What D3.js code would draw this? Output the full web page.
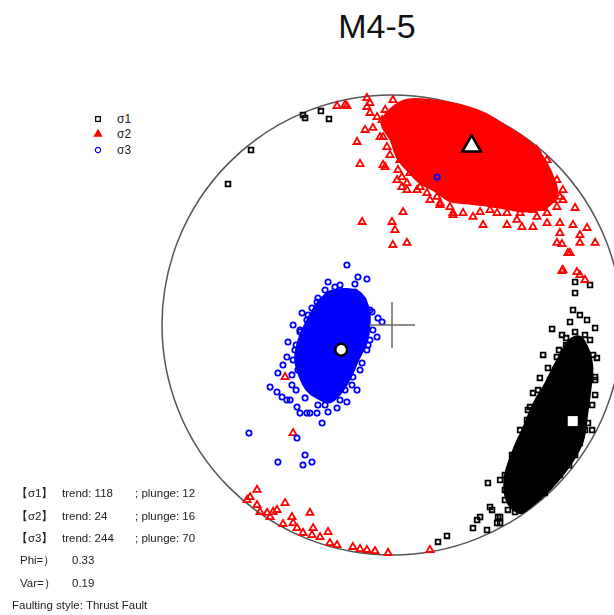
<!DOCTYPE html>
<html>
<head>
<meta charset="utf-8">
<script src="https://cdn.jsdelivr.net/npm/d3@7"></script>
<style>
  body { margin: 0; background: #fff; }
  svg text { font-family: "Liberation Sans", Arial, sans-serif; }
</style>
</head>
<body>
<div id="chart"></div>
<script>
// Stereonet (lower hemisphere, equal area). Point coords are in percent of net radius (x east, y north).

const sigma1Core = [[77.4,-6.5],[81.7,-5.2],[84.8,-9.6],[87.0,-18.3],[86.1,-28.3],[84.8,-38.3],[83.0,-50.0],[78.7,-58.7],[69.0,-71.0],[60.0,-79.1],[55.7,-81.7],[50.5,-77.4],[49.0,-67.0],[53.0,-54.0],[57.5,-44.0],[62.0,-33.5],[67.0,-25.0],[72.0,-15.2]];
const sigma1Points = [[79.6,18.7],[86.1,17.4],[79.6,13.9],[78.7,6.5],[81.7,4.3],[77.4,1.3],[84.8,2.2],[88.3,-1.3],[69.6,-1.7],[73.9,-4.3],[65.7,-13.0],[71.7,-13.9],[89.1,-14.3],[64.3,-23.0],[68.7,-23.9],[88.3,-22.6],[61.3,-29.6],[60.0,-35.7],[85.2,-42.6],[58.7,-41.3],[54.3,-54.3],[81.7,-51.3],[41.7,-68.7],[47.0,-67.4],[77.0,-61.0],[42.6,-79.1],[47.0,-83.5],[41.3,-89.1],[45.7,-86.1],[43.5,-80.4],[38.3,-83.5],[37.0,-84.8],[35.2,-88.3],[47.0,-86.1],[46.1,-83.5],[23.9,-91.7],[20.0,-94.3],[50.4,-80.4],[-38.7,91.3],[-37.8,90.0],[-30.9,93.0],[-27.4,89.6],[-61.3,76.1],[-71.3,61.3],[75.7,-8.7],[70.9,-19.6],[66.5,-30.4],[62.2,-39.1],[57.8,-50.0],[53.5,-60.9],[49.1,-71.7],[86.1,-6.5],[88.3,-30.4],[87.0,-45.7],
  [75.7,-5.7],[72.6,-10.9],[67.8,-18.7],[63.5,-28.3],[59.1,-37.0],[55.7,-45.7],[52.2,-56.5],[49.1,-65.2],[49.1,-76.1],[53.5,-81.3],[59.1,-78.3],[66.5,-73.0],[73.0,-65.2],[79.6,-56.5],[83.9,-45.7],[87.0,-34.8],[88.3,-23.9],[87.4,-13.0],[83.9,-4.3],[79.6,-3.0]];

const sigma2Core = [[-0.9,93.5],[6.5,97.8],[25.2,96.5],[39.6,92.2],[50.0,86.1],[58.7,80.4],[64.3,74.8],[70.0,64.3],[71.7,57.4],[67.4,51.3],[58.7,49.5],[50.0,50.5],[41.3,52.0],[32.6,53.0],[25.2,54.0],[18.5,58.5],[12.0,62.0],[7.5,66.5],[2.5,72.5],[-0.5,80.4],[-4.5,87.8]];
const sigma2Points = [[-20.4,95.7],[-23.9,95.2],[-19.6,95.2],[-10.9,98.7],[-9.6,92.2],[-10.9,94.8],[-11.7,84.8],[-15.2,79.6],[-13.9,70.0],[-3.9,69.6],[4.3,60.0],[4.8,49.1],[-13.0,44.8],[0,44.8],[1.3,41.3],[0.4,34.8],[6.5,35.7],[20.9,53.0],[26.5,47.8],[35.2,47.0],[39.6,43.5],[50.0,43.5],[56.5,42.6],[61.3,42.6],[67.4,44.3],[73.0,44.3],[78.7,43.5],[79.6,50.9],[73.0,40.0],[81.7,39.1],[84.8,42.2],[88.3,35.7],[71.7,35.7],[77.4,31.3],[81.7,35.7],[74.3,23.9],[80.4,23.0],[73.9,35.2],[76.5,31.3],[73.9,23.5],[81.7,21.7],[83.9,19.6],[-46.5,-22.6],[-43.0,-47.0],
  [-58.7,-71.7],[-61.7,-74.8],[-63.0,-76.1],[-58.7,-78.3],[-54.3,-81.7],[-51.7,-81.3],[-50.0,-80.4],[-46.5,-77.4],[-43.5,-83.5],[-47.4,-86.5],[-43.0,-86.1],[-41.3,-88.3],[-38.7,-90.4],[-35.7,-81.7],[-34.3,-88.3],[-34.8,-91.3],[-31.3,-92.2],[-27.8,-90.0],[-27.0,-94.8],[-23.9,-95.7],[-17.0,-96.5],[-13.9,-97.4],[-10.9,-97.8],[-7.4,-98.3],[-1.7,-99.1],[16.5,-97.8],[-57.4,-81.3],[-53.0,-83.5],
  [-4.3,89.1],[-8.3,85.7],[-3.9,81.7],[-0.9,73.9],[-3.0,68.7],[2.6,67.4],[4.3,64.3],[6.5,58.7],[10.9,58.7],[15.2,57.4],[19.6,55.7],[20.9,52.2],[26.5,48.7],[30.9,48.7],[42.6,50.0],[50.0,48.7],[55.7,48.7],[61.3,50.0],[65.7,50.9],[70.0,54.3],[73.0,55.7],[71.7,63.0],[67.4,71.7],[63.0,76.1],[58.7,78.3],[-9.6,96.5],[0.4,97.8],[-3.0,93.5],
  [2.2,63.0],[6.5,61.7],[12.2,60.0],[3.5,71.7],[7.8,66.1],[-5.2,81.7],[-6.5,90.4],[-2.2,77.4],[16.5,54.3],[25.2,51.3],[38.3,49.1],[45.7,48.7],[54.3,45.7],[63.0,47.0],[67.4,48.7],[71.7,51.3],[74.3,54.3],[74.3,58.7]];

const sigma3Core = [[-27.0,14.5],[-19.6,15.5],[-13.9,13.9],[-10.4,7.8],[-9.8,0.9],[-11.2,-7.8],[-14.8,-15.2],[-18.0,-22.6],[-22.6,-30.0],[-27.0,-33.5],[-31.8,-32.0],[-36.5,-28.8],[-40.0,-22.6],[-42.0,-15.0],[-40.5,-6.5],[-36.0,3.5],[-32.0,10.0]];
const sigma3Points = [[-19.6,26.1],[-14.8,20.9],[-10.9,20.0],[-27.8,18.7],[-16.1,17.8],[-32.6,10.0],[-39.1,5.2],[-36.5,4.3],[-43.0,0],[-40.0,-3.0],[-45.2,-7.4],[-42.2,-10.9],[-45.7,-13.9],[-47.4,-17.4],[-49.6,-20.9],[-53.0,-27.0],[-50.0,-29.1],[-47.8,-31.3],[-44.3,-32.6],[-41.3,-35.7],[-40.0,-38.3],[-35.7,-38.3],[-30.4,-42.6],[-27.8,-37.8],[-23.9,-36.1],[-19.6,-33.5],[-15.2,-28.3],[-9.6,6.5],[-6.1,3.0],[-4.3,1.3],[-6.5,-5.2],[-9.6,-6.5],[-10.9,-10.9],[-13.0,-16.5],[-17.0,-22.6],[-41.3,-49.1],[-37.8,-56.5],[-49.6,-59.6],[-38.7,-60.9],[-34.8,-59.6],[-62.2,-47.0],[-45.7,-32.6],[-37.0,-38.3],[-32.6,-38.3],[19.6,64.3],[-22.6,17.4],[-18.3,13.0],[-34.8,0],[-37.8,-8.7],[-11.7,-2.2],[-20.4,-28.3],[-29.1,-34.8],[-43.5,-26.1],[-40.9,-19.6],
  [-29.1,15.2],[-24.8,16.5],[-16.1,14.3],[-12.6,10.9],[-8.7,5.7],[-8.3,-2.2],[-10.4,-8.7],[-13.9,-19.6],[-17.4,-26.1],[-22.6,-32.6],[-32.2,-34.8],[-37.8,-31.7],[-41.7,-28.3],[-43.5,-21.7],[-43.0,-15.2],[-41.7,-8.7],[-40.0,-2.2],[-37.0,2.2],[-34.8,7.4],[-32.2,11.7]];

// principal stress axes: [trend, plunge]
const meanNames = ["σ1", "σ2", "σ3"];
const meanTrend = [118, 24, 244];
const meanPlunge = [12, 16, 70];
const phiValue = "0.33";
const varValue = "0.19";
const faultStyle = "Thrust Fault";

const width = 614, height = 615;
const cx = 392, cy = 325, R = 230;

const svg = d3.select("#chart").append("svg")
  .attr("width", width).attr("height", height);

// soften marks a little, like the source raster
svg.append("defs").append("filter").attr("id", "soft")
  .append("feGaussianBlur").attr("stdDeviation", 0.35);

const x = d3.scaleLinear().domain([-100, 100]).range([cx - R, cx + R]);
const y = d3.scaleLinear().domain([-100, 100]).range([cy + R, cy - R]);

// equal-area projection of a line (trend, plunge) -> percent of radius
function project(trend, plunge) {
  const t = trend * Math.PI / 180;
  const r = Math.SQRT2 * Math.sin((90 - plunge) / 2 * Math.PI / 180) * 100;
  return [r * Math.sin(t), r * Math.cos(t)];
}

// title
svg.append("text")
  .attr("x", 377).attr("y", 38)
  .attr("text-anchor", "middle")
  .attr("font-size", 34)
  .attr("fill", "#111")
  .text("M4-5");

// primitive circle
svg.append("circle")
  .attr("cx", x(0)).attr("cy", y(0))
  .attr("r", x(100) - x(0))
  .attr("fill", "none")
  .attr("stroke", "#555")
  .attr("stroke-width", 1.5);

const core = d3.line().x(d => x(d[0])).y(d => y(d[1])).curve(d3.curveCatmullRomClosed);

const series = [
  { core: sigma1Core, pts: sigma1Points, color: "#000", sym: d3.symbolSquare, size: 22 },
  { core: sigma2Core, pts: sigma2Points, color: "#ff0000", sym: d3.symbolTriangle, size: 22 },
  { core: sigma3Core, pts: sigma3Points, color: "#0000ff", sym: d3.symbolCircle, size: 22 }
];

const marks = svg.append("g").attr("filter", "url(#soft)");
series.forEach(s => {
  const g = marks.append("g");
  g.append("path")
    .attr("d", core(s.core))
    .attr("fill", s.color)
    .attr("stroke", s.color)
    .attr("stroke-width", 2.5)
    .attr("stroke-linejoin", "round");
  g.selectAll("path.pt").data(s.pts).join("path")
    .attr("class", "pt")
    .attr("transform", d => `translate(${x(d[0])},${y(d[1])})`)
    .attr("d", d3.symbol().type(s.sym).size(s.size))
    .attr("fill", "none")
    .attr("stroke", s.color)
    .attr("stroke-width", 1.8);
});

// cross at centre
const cross = svg.append("g").attr("stroke", "#666").attr("stroke-width", 1.5);
cross.append("line").attr("x1", x(-10)).attr("x2", x(10)).attr("y1", y(0)).attr("y2", y(0));
cross.append("line").attr("x1", x(0)).attr("x2", x(0)).attr("y1", y(-10)).attr("y2", y(10));

// mean axes
const meanSyms = [
  { sym: d3.symbolSquare, size: 100, stroke: "none", sw: 0 },
  { sym: d3.symbolTriangle, size: 150, stroke: "#000", sw: 2.5 },
  { sym: d3.symbolCircle, size: 110, stroke: "#000", sw: 2.5 }
];
meanNames.forEach((n, i) => {
  const p = project(meanTrend[i], meanPlunge[i]);
  svg.append("path")
    .attr("transform", `translate(${x(p[0])},${y(p[1])})`)
    .attr("d", d3.symbol().type(meanSyms[i].sym).size(meanSyms[i].size)())
    .attr("fill", "#fff")
    .attr("stroke", meanSyms[i].stroke)
    .attr("stroke-width", meanSyms[i].sw);
});

// legend
const legendColors = ["#000", "#ff0000", "#0000ff"];
const legendSyms = [d3.symbolSquare, d3.symbolTriangle, d3.symbolCircle];
const legendY = [119, 134, 150];
meanNames.forEach((n, i) => {
  svg.append("path")
    .attr("transform", `translate(98,${legendY[i]})`)
    .attr("d", d3.symbol().type(legendSyms[i]).size(22)())
    .attr("fill", i === 1 ? legendColors[i] : "none")
    .attr("stroke", legendColors[i])
    .attr("stroke-width", 1.2);
  svg.append("text")
    .attr("x", 117).attr("y", legendY[i] + 4)
    .attr("font-size", 12)
    .attr("fill", "#222")
    .text(n);
});

// summary text
const info = svg.append("g").attr("font-size", 11.5).attr("fill", "#222");
const lineY = [497, 520, 542];
meanNames.forEach((n, i) => {
  info.append("text").attr("x", 16).attr("y", lineY[i]).text(`【${n}】`);
  info.append("text").attr("x", 62).attr("y", lineY[i]).text(`trend: ${meanTrend[i]}`);
  info.append("text").attr("x", 135).attr("y", lineY[i]).text(`; plunge: ${meanPlunge[i]}`);
});
info.append("text").attr("x", 20).attr("y", 564).text("Phi=）");
info.append("text").attr("x", 72).attr("y", 564).text(phiValue);
info.append("text").attr("x", 20).attr("y", 587).text("Var=）");
info.append("text").attr("x", 72).attr("y", 587).text(varValue);
info.append("text").attr("x", 12).attr("y", 609).text(`Faulting style: ${faultStyle}`);
</script>
</body>
</html>
